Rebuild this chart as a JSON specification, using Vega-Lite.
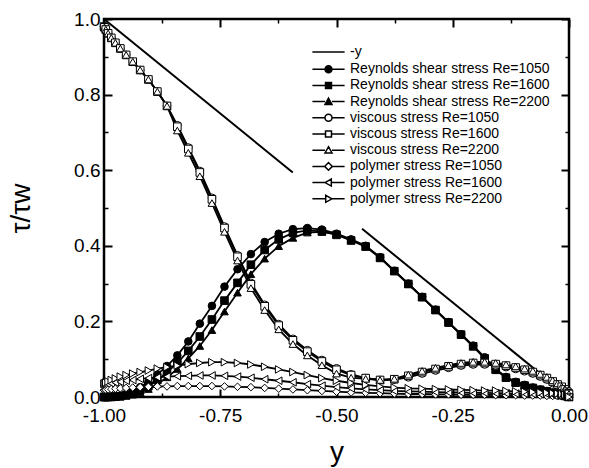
{
  "$schema": "https://vega.github.io/schema/vega-lite/v6.json",
  "width": 465,
  "height": 378,
  "autosize": {"type": "none"},
  "padding": {"left": 104, "top": 19, "right": 20, "bottom": 71},
  "config": {
    "view": {"stroke": "black", "strokeWidth": 2.5},
    "font": "Liberation Sans",
    "axis": {
      "domain": false,
      "grid": false,
      "labelFlush": false,
      "tickColor": "black",
      "labelColor": "black",
      "labelFont": "Liberation Sans",
      "labelFontSize": 19,
      "titleFont": "Liberation Sans",
      "titleFontSize": 28,
      "titleFontWeight": "normal",
      "titleColor": "black"
    },
    "legend": {
      "orient": "none", "legendX": 217.5, "legendY": 26, "title": null, "padding": 0,
      "labelFont": "Liberation Sans", "labelFontSize": 14, "labelColor": "black", "labelLimit": 400,
      "labelOffset": 14.5, "rowPadding": 2.2, "symbolSize": 49, "symbolStrokeWidth": 1.5,
      "symbolStrokeColor": "black", "symbolOpacity": 1
    }
  },
  "data": {
    "values": [
      {"x": -1, "R1050": 0, "R1600": 0, "R2200": 0, "V1050": 0.98, "V1600": 0.98, "V2200": 0.98, "P1050": 0.018, "P1600": 0.03, "P2200": 0.035},
      {"x": -0.999, "R1050": 0, "R1600": 0, "R2200": 0, "V1050": 0.978, "V1600": 0.978, "V2200": 0.978, "P1050": 0.018, "P1600": 0.031, "P2200": 0.036},
      {"x": -0.9961, "R1050": 0, "R1600": 0, "R2200": 0, "V1050": 0.972, "V1600": 0.972, "V2200": 0.972, "P1050": 0.019, "P1600": 0.032, "P2200": 0.038},
      {"x": -0.9911, "R1050": 0, "R1600": 0, "R2200": 0, "V1050": 0.962, "V1600": 0.962, "V2200": 0.962, "P1050": 0.02, "P1600": 0.034, "P2200": 0.041},
      {"x": -0.9843, "R1050": 0.001, "R1600": 0, "R2200": 0, "V1050": 0.95, "V1600": 0.95, "V2200": 0.95, "P1050": 0.021, "P1600": 0.036, "P2200": 0.045},
      {"x": -0.9755, "R1050": 0.002, "R1600": 0.001, "R2200": 0, "V1050": 0.937, "V1600": 0.937, "V2200": 0.937, "P1050": 0.022, "P1600": 0.038, "P2200": 0.049},
      {"x": -0.9649, "R1050": 0.004, "R1600": 0.002, "R2200": 0.001, "V1050": 0.922, "V1600": 0.922, "V2200": 0.922, "P1050": 0.023, "P1600": 0.04, "P2200": 0.054},
      {"x": -0.9524, "R1050": 0.008, "R1600": 0.005, "R2200": 0.003, "V1050": 0.905, "V1600": 0.905, "V2200": 0.905, "P1050": 0.024, "P1600": 0.043, "P2200": 0.058},
      {"x": -0.9382, "R1050": 0.015, "R1600": 0.01, "R2200": 0.006, "V1050": 0.887, "V1600": 0.887, "V2200": 0.887, "P1050": 0.025, "P1600": 0.045, "P2200": 0.062},
      {"x": -0.9222, "R1050": 0.026, "R1600": 0.018, "R2200": 0.012, "V1050": 0.865, "V1600": 0.865, "V2200": 0.865, "P1050": 0.026, "P1600": 0.048, "P2200": 0.066},
      {"x": -0.9045, "R1050": 0.04, "R1600": 0.029, "R2200": 0.021, "V1050": 0.84, "V1600": 0.84, "V2200": 0.84, "P1050": 0.027, "P1600": 0.05, "P2200": 0.07},
      {"x": -0.8853, "R1050": 0.06, "R1600": 0.045, "R2200": 0.034, "V1050": 0.808, "V1600": 0.808, "V2200": 0.808, "P1050": 0.028, "P1600": 0.052, "P2200": 0.075},
      {"x": -0.8645, "R1050": 0.082, "R1600": 0.065, "R2200": 0.052, "V1050": 0.77, "V1600": 0.77, "V2200": 0.77, "P1050": 0.028, "P1600": 0.054, "P2200": 0.079},
      {"x": -0.8423, "R1050": 0.11, "R1600": 0.09, "R2200": 0.074, "V1050": 0.719, "V1600": 0.715, "V2200": 0.705, "P1050": 0.029, "P1600": 0.055, "P2200": 0.083},
      {"x": -0.8187, "R1050": 0.147, "R1600": 0.122, "R2200": 0.102, "V1050": 0.66, "V1600": 0.656, "V2200": 0.646, "P1050": 0.029, "P1600": 0.056, "P2200": 0.087},
      {"x": -0.7939, "R1050": 0.194, "R1600": 0.16, "R2200": 0.135, "V1050": 0.598, "V1600": 0.594, "V2200": 0.584, "P1050": 0.029, "P1600": 0.057, "P2200": 0.09},
      {"x": -0.7679, "R1050": 0.241, "R1600": 0.205, "R2200": 0.177, "V1050": 0.527, "V1600": 0.523, "V2200": 0.513, "P1050": 0.029, "P1600": 0.057, "P2200": 0.092},
      {"x": -0.7409, "R1050": 0.292, "R1600": 0.255, "R2200": 0.226, "V1050": 0.451, "V1600": 0.447, "V2200": 0.437, "P1050": 0.028, "P1600": 0.056, "P2200": 0.092},
      {"x": -0.7129, "R1050": 0.338, "R1600": 0.302, "R2200": 0.276, "V1050": 0.375, "V1600": 0.371, "V2200": 0.361, "P1050": 0.027, "P1600": 0.054, "P2200": 0.09},
      {"x": -0.6841, "R1050": 0.378, "R1600": 0.35, "R2200": 0.325, "V1050": 0.302, "V1600": 0.298, "V2200": 0.288, "P1050": 0.026, "P1600": 0.051, "P2200": 0.086},
      {"x": -0.6545, "R1050": 0.41, "R1600": 0.389, "R2200": 0.366, "V1050": 0.244, "V1600": 0.24, "V2200": 0.23, "P1050": 0.024, "P1600": 0.047, "P2200": 0.08},
      {"x": -0.6243, "R1050": 0.432, "R1600": 0.417, "R2200": 0.399, "V1050": 0.193, "V1600": 0.189, "V2200": 0.179, "P1050": 0.022, "P1600": 0.043, "P2200": 0.073},
      {"x": -0.5937, "R1050": 0.444, "R1600": 0.434, "R2200": 0.421, "V1050": 0.154, "V1600": 0.15, "V2200": 0.14, "P1050": 0.02, "P1600": 0.039, "P2200": 0.066},
      {"x": -0.5627, "R1050": 0.447, "R1600": 0.441, "R2200": 0.435, "V1050": 0.124, "V1600": 0.12, "V2200": 0.11, "P1050": 0.018, "P1600": 0.034, "P2200": 0.058},
      {"x": -0.5314, "R1050": 0.443, "R1600": 0.438, "R2200": 0.437, "V1050": 0.098, "V1600": 0.094, "V2200": 0.084, "P1050": 0.016, "P1600": 0.03, "P2200": 0.05},
      {"x": -0.5, "R1050": 0.432, "R1600": 0.429, "R2200": 0.431, "V1050": 0.076, "V1600": 0.072, "V2200": 0.062, "P1050": 0.014, "P1600": 0.026, "P2200": 0.043},
      {"x": -0.4686, "R1050": 0.417, "R1600": 0.414, "R2200": 0.416, "V1050": 0.06, "V1600": 0.058, "V2200": 0.051, "P1050": 0.012, "P1600": 0.023, "P2200": 0.037},
      {"x": -0.4373, "R1050": 0.4, "R1600": 0.398, "R2200": 0.398, "V1050": 0.05, "V1600": 0.05, "V2200": 0.048, "P1050": 0.011, "P1600": 0.02, "P2200": 0.032},
      {"x": -0.4063, "R1050": 0.37, "R1600": 0.368, "R2200": 0.369, "V1050": 0.045, "V1600": 0.045, "V2200": 0.045, "P1050": 0.01, "P1600": 0.018, "P2200": 0.028},
      {"x": -0.3757, "R1050": 0.334, "R1600": 0.333, "R2200": 0.333, "V1050": 0.046, "V1600": 0.047, "V2200": 0.048, "P1050": 0.009, "P1600": 0.016, "P2200": 0.025},
      {"x": -0.3455, "R1050": 0.3, "R1600": 0.299, "R2200": 0.299, "V1050": 0.052, "V1600": 0.056, "V2200": 0.059, "P1050": 0.008, "P1600": 0.015, "P2200": 0.023},
      {"x": -0.3159, "R1050": 0.265, "R1600": 0.264, "R2200": 0.264, "V1050": 0.062, "V1600": 0.066, "V2200": 0.069, "P1050": 0.008, "P1600": 0.014, "P2200": 0.022},
      {"x": -0.2871, "R1050": 0.231, "R1600": 0.23, "R2200": 0.23, "V1050": 0.07, "V1600": 0.074, "V2200": 0.077, "P1050": 0.007, "P1600": 0.013, "P2200": 0.021},
      {"x": -0.2591, "R1050": 0.198, "R1600": 0.197, "R2200": 0.197, "V1050": 0.077, "V1600": 0.081, "V2200": 0.084, "P1050": 0.007, "P1600": 0.012, "P2200": 0.02},
      {"x": -0.2321, "R1050": 0.166, "R1600": 0.165, "R2200": 0.165, "V1050": 0.083, "V1600": 0.087, "V2200": 0.09, "P1050": 0.006, "P1600": 0.012, "P2200": 0.019},
      {"x": -0.2061, "R1050": 0.136, "R1600": 0.134, "R2200": 0.134, "V1050": 0.086, "V1600": 0.09, "V2200": 0.093, "P1050": 0.006, "P1600": 0.011, "P2200": 0.018},
      {"x": -0.1813, "R1050": 0.105, "R1600": 0.102, "R2200": 0.103, "V1050": 0.086, "V1600": 0.09, "V2200": 0.093, "P1050": 0.006, "P1600": 0.011, "P2200": 0.017},
      {"x": -0.1577, "R1050": 0.074, "R1600": 0.072, "R2200": 0.073, "V1050": 0.083, "V1600": 0.087, "V2200": 0.09, "P1050": 0.005, "P1600": 0.01, "P2200": 0.017},
      {"x": -0.1355, "R1050": 0.053, "R1600": 0.051, "R2200": 0.052, "V1050": 0.079, "V1600": 0.083, "V2200": 0.086, "P1050": 0.005, "P1600": 0.01, "P2200": 0.016},
      {"x": -0.1147, "R1050": 0.04, "R1600": 0.038, "R2200": 0.039, "V1050": 0.074, "V1600": 0.078, "V2200": 0.081, "P1050": 0.005, "P1600": 0.009, "P2200": 0.015},
      {"x": -0.0955, "R1050": 0.032, "R1600": 0.03, "R2200": 0.031, "V1050": 0.068, "V1600": 0.072, "V2200": 0.075, "P1050": 0.004, "P1600": 0.009, "P2200": 0.014},
      {"x": -0.0778, "R1050": 0.025, "R1600": 0.024, "R2200": 0.025, "V1050": 0.062, "V1600": 0.066, "V2200": 0.069, "P1050": 0.004, "P1600": 0.008, "P2200": 0.013},
      {"x": -0.0619, "R1050": 0.02, "R1600": 0.019, "R2200": 0.02, "V1050": 0.054, "V1600": 0.058, "V2200": 0.061, "P1050": 0.004, "P1600": 0.008, "P2200": 0.012},
      {"x": -0.0476, "R1050": 0.016, "R1600": 0.015, "R2200": 0.015, "V1050": 0.046, "V1600": 0.05, "V2200": 0.053, "P1050": 0.003, "P1600": 0.007, "P2200": 0.011},
      {"x": -0.0351, "R1050": 0.012, "R1600": 0.011, "R2200": 0.011, "V1050": 0.037, "V1600": 0.041, "V2200": 0.044, "P1050": 0.003, "P1600": 0.006, "P2200": 0.01},
      {"x": -0.0245, "R1050": 0.009, "R1600": 0.008, "R2200": 0.008, "V1050": 0.03, "V1600": 0.033, "V2200": 0.036, "P1050": 0.002, "P1600": 0.005, "P2200": 0.009},
      {"x": -0.0157, "R1050": 0.006, "R1600": 0.005, "R2200": 0.005, "V1050": 0.024, "V1600": 0.027, "V2200": 0.028, "P1050": 0.002, "P1600": 0.004, "P2200": 0.008},
      {"x": -0.0089, "R1050": 0.004, "R1600": 0.003, "R2200": 0.003, "V1050": 0.018, "V1600": 0.02, "V2200": 0.021, "P1050": 0.001, "P1600": 0.003, "P2200": 0.006},
      {"x": -0.0039, "R1050": 0.002, "R1600": 0.002, "R2200": 0.002, "V1050": 0.013, "V1600": 0.014, "V2200": 0.015, "P1050": 0.001, "P1600": 0.002, "P2200": 0.004},
      {"x": -0.001, "R1050": 0.001, "R1600": 0.001, "R2200": 0.001, "V1050": 0.009, "V1600": 0.01, "V2200": 0.01, "P1050": 0, "P1600": 0.001, "P2200": 0.002},
      {"x": 0, "R1050": 0, "R1600": 0, "R2200": 0, "V1050": 0.007, "V1600": 0.008, "V2200": 0.008, "P1050": 0, "P1600": 0, "P2200": 0}
    ]
  },
  "layer": [
    {
      "data": {
        "values": [
          {"x": -1, "t": 1, "seg": "a"},
          {"x": -0.594, "t": 0.594, "seg": "a"},
          {"x": -0.445, "t": 0.445, "seg": "b"},
          {"x": 0, "t": 0, "seg": "b"}
        ]
      },
      "mark": {"type": "line", "color": "black", "strokeWidth": 2},
      "encoding": {
        "x": {"field": "x", "type": "quantitative", "scale": {"domain": [-1, 0], "nice": false, "zero": false},
              "axis": {"orient": "bottom", "values": [-0.875, -0.625, -0.375, -0.125], "labels": false, "tickSize": -4, "tickWidth": 1.5, "title": null}},
        "y": {"field": "t", "type": "quantitative", "scale": {"domain": [0, 1], "nice": false},
              "axis": {"orient": "left", "values": [0.1, 0.3, 0.5, 0.7, 0.9], "labels": false, "tickSize": -4, "tickWidth": 1.5, "title": null}},
        "detail": {"field": "seg"}
      }
    },
    {
      "transform": [{"fold": ["R1050", "R1600", "R2200", "V1050", "V1600", "V2200", "P1050", "P1600", "P2200"], "as": ["s", "t"]}],
      "mark": {"type": "line", "color": "black", "strokeWidth": 1.8},
      "encoding": {
        "x": {"field": "x", "type": "quantitative", "scale": {"domain": [-1, 0], "nice": false, "zero": false},
              "axis": {"orient": "top", "values": [-0.875, -0.625, -0.375, -0.125], "labels": false, "tickSize": -4, "tickWidth": 1.5, "title": null}},
        "y": {"field": "t", "type": "quantitative", "scale": {"domain": [0, 1], "nice": false},
              "axis": {"orient": "right", "values": [0.1, 0.3, 0.5, 0.7, 0.9], "labels": false, "tickSize": -4, "tickWidth": 1.5, "title": null}},
        "detail": {"field": "s"}
      }
    },
    {
      "transform": [{"fold": ["R1050", "R1600", "R2200", "V1050", "V1600", "V2200", "P1050", "P1600", "P2200"], "as": ["s", "t"]}],
      "mark": {"type": "point", "filled": true, "stroke": "black", "strokeWidth": 1, "size": 58, "opacity": 1},
      "encoding": {
        "x": {"field": "x", "type": "quantitative", "scale": {"domain": [-1, 0], "nice": false, "zero": false},
              "axis": {"orient": "bottom", "values": [-1, -0.75, -0.5, -0.25, 0], "labelExpr": "replace(format(datum.value, '.2f'), '\u2212', '-')", "tickSize": -8, "tickWidth": 2, "labelPadding": 17, "title": "y", "titleX": 232.5, "titleY": 63, "titleBaseline": "alphabetic", "titleFontSize": 28}},
        "y": {"field": "t", "type": "quantitative", "scale": {"domain": [0, 1], "nice": false},
              "axis": {"orient": "left", "values": [0, 0.2, 0.4, 0.6, 0.8, 1], "labelExpr": "format(datum.value, '.1f')", "tickSize": -8, "tickWidth": 2, "labelPadding": 12, "title": "τ/τw", "titleX": -75, "titleY": 189, "titleAngle": 270, "titleAlign": "center", "titleBaseline": "alphabetic", "titleFontSize": 28}},
        "shape": {"field": "s", "type": "nominal", "legend": null,
                  "scale": {"domain": ["R1050", "R1600", "R2200", "V1050", "V1600", "V2200", "P1050", "P1600", "P2200"],
                            "range": ["circle", "square", "triangle-up", "circle", "square", "triangle-up", "diamond", "triangle-left", "triangle-right"]}},
        "fill": {"field": "s", "type": "nominal", "legend": null,
                 "scale": {"domain": ["R1050", "R1600", "R2200", "V1050", "V1600", "V2200", "P1050", "P1600", "P2200"],
                           "range": ["black", "black", "black", "white", "white", "white", "white", "white", "white"]}}
      }
    },
    {
      "data": {
        "values": [
          {"s": "-y", "x": 3, "t": 3},
          {"s": "Reynolds shear stress Re=1050", "x": 3, "t": 3},
          {"s": "Reynolds shear stress Re=1600", "x": 3, "t": 3},
          {"s": "Reynolds shear stress Re=2200", "x": 3, "t": 3},
          {"s": "viscous stress Re=1050", "x": 3, "t": 3},
          {"s": "viscous stress Re=1600", "x": 3, "t": 3},
          {"s": "viscous stress Re=2200", "x": 3, "t": 3},
          {"s": "polymer stress Re=1050", "x": 3, "t": 3},
          {"s": "polymer stress Re=1600", "x": 3, "t": 3},
          {"s": "polymer stress Re=2200", "x": 3, "t": 3}
        ]
      },
      "mark": {"type": "point", "filled": true, "clip": true},
      "encoding": {
        "x": {"field": "x", "type": "quantitative", "scale": {"domain": [-1, 0], "nice": false, "zero": false},
              "axis": {"orient": "top", "values": [-1, -0.75, -0.5, -0.25, 0], "labels": false, "tickSize": -8, "tickWidth": 2, "title": null}},
        "y": {"field": "t", "type": "quantitative", "scale": {"domain": [0, 1], "nice": false},
              "axis": {"orient": "right", "values": [0, 0.2, 0.4, 0.6, 0.8, 1], "labels": false, "tickSize": -8, "tickWidth": 2, "title": null}},
        "shape": {"field": "s", "type": "nominal",
                  "scale": {"domain": ["-y", "Reynolds shear stress Re=1050", "Reynolds shear stress Re=1600", "Reynolds shear stress Re=2200", "viscous stress Re=1050", "viscous stress Re=1600", "viscous stress Re=2200", "polymer stress Re=1050", "polymer stress Re=1600", "polymer stress Re=2200"],
                            "range": [
                              "M0,-1.2L0,-1.2M-4.6,0H4.6M0,1.2L0,1.2",
                              "M-4.6,0H-1M1,0H4.6M-1,0A1,1,0,1,1,1,0A1,1,0,1,1,-1,0Z",
                              "M-4.6,0H-0.85M0.85,0H4.6M-0.85,-0.85H0.85V0.85H-0.85Z",
                              "M-4.6,0H-1M1,0H4.6M0,-1L1,0.8L-1,0.8Z",
                              "M-4.6,0H-1M1,0H4.6M-1,0A1,1,0,1,1,1,0A1,1,0,1,1,-1,0Z",
                              "M-4.6,0H-0.85M0.85,0H4.6M-0.85,-0.85H0.85V0.85H-0.85Z",
                              "M-4.6,0H-1M1,0H4.6M0,-1L1,0.8L-1,0.8Z",
                              "M-4.6,0H-1.1M1.1,0H4.6M0,-1.1L1.1,0L0,1.1L-1.1,0Z",
                              "M-4.6,0H-1M0.8,0H4.6M-1,0L0.8,-1L0.8,1Z",
                              "M-4.6,0H-0.8M1,0H4.6M1,0L-0.8,-1L-0.8,1Z"
                            ]}},
        "fill": {"field": "s", "type": "nominal",
                 "scale": {"domain": ["-y", "Reynolds shear stress Re=1050", "Reynolds shear stress Re=1600", "Reynolds shear stress Re=2200", "viscous stress Re=1050", "viscous stress Re=1600", "viscous stress Re=2200", "polymer stress Re=1050", "polymer stress Re=1600", "polymer stress Re=2200"],
                           "range": ["black", "black", "black", "black", "white", "white", "white", "white", "white", "white"]}},
        "stroke": {"field": "s", "type": "nominal",
                   "scale": {"domain": ["-y", "Reynolds shear stress Re=1050", "Reynolds shear stress Re=1600", "Reynolds shear stress Re=2200", "viscous stress Re=1050", "viscous stress Re=1600", "viscous stress Re=2200", "polymer stress Re=1050", "polymer stress Re=1600", "polymer stress Re=2200"],
                             "range": ["black", "black", "black", "black", "black", "black", "black", "black", "black", "black"]}}
      }
    }
  ],
  "resolve": {
    "scale": {"shape": "independent", "fill": "independent", "stroke": "independent"},
    "axis": {"x": "independent", "y": "independent"}
  }
}
